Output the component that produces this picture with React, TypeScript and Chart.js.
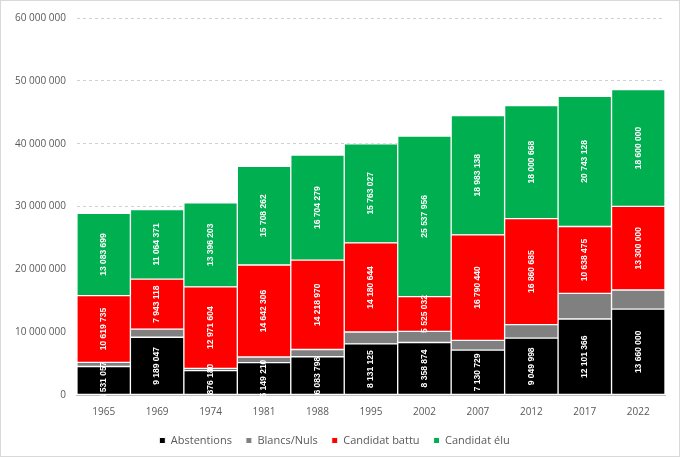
import { useEffect, useRef } from "react"
import { Chart, registerables } from "chart.js"

Chart.register(...registerables)

const years = ["1965", "1969", "1974", "1981", "1988", "1995", "2002", "2007", "2012", "2017", "2022"]
const abstentions = [4531057, 9189047, 3876180, 5149210, 6083798, 8131125, 8358874, 7130729, 9049998, 12101366, 13660000]
const blancsNuls = [668000, 1300000, 357000, 900000, 1160000, 1900000, 1770000, 1570000, 2150000, 4070000, 3050000]
const battu = [10619735, 7943118, 12971604, 14642306, 14218970, 14180644, 5525032, 16790440, 16860685, 10638475, 13300000]
const elu = [13083699, 11064371, 13396203, 15708262, 16704279, 15763027, 25537956, 18983138, 18000668, 20743128, 18600000]

const fmt = (v: number) => String(Math.round(v)).replace(/\B(?=(\d{3})+(?!\d))/g, " ")

// white vertical labels inside segments (grey segment has none)
const segmentLabels = {
  id: "segmentLabels",
  afterDatasetsDraw(chart: any) {
    const ctx = chart.ctx
    ctx.save()
    ctx.fillStyle = "#ffffff"
    ctx.font = "bold 8.5px 'Liberation Sans', Arial, sans-serif"
    ctx.textAlign = "center"
    ctx.textBaseline = "middle"
    chart.data.datasets.forEach((ds: any, i: number) => {
      if (ds.label === "Blancs/Nuls") return
      const meta = chart.getDatasetMeta(i)
      meta.data.forEach((bar: any, j: number) => {
        const y = (bar.y + bar.base) / 2
        ctx.save()
        ctx.translate(bar.x, y)
        ctx.rotate(-Math.PI / 2)
        ctx.fillText(fmt(ds.data[j]), 0, 0)
        ctx.restore()
      })
    })
    ctx.restore()
  },
}

export default function App() {
  const chartRef = useRef<HTMLCanvasElement>(null)
  const chartInstance = useRef<Chart | null>(null)

  useEffect(() => {
    document.body.style.margin = "0"
    if (!chartRef.current) return
    const ctx = chartRef.current.getContext("2d")
    if (!ctx) return
    if (chartInstance.current) chartInstance.current.destroy()

    const mk = (label: string, data: number[], color: string) => ({
      label,
      data,
      backgroundColor: color,
      borderColor: "#ffffff",
      borderWidth: 1,
      borderSkipped: false,
      barPercentage: 1,
      categoryPercentage: 1,
    })

    chartInstance.current = new Chart(ctx, {
      type: "bar",
      data: {
        labels: years,
        datasets: [
          mk("Abstentions", abstentions, "#000000"),
          mk("Blancs/Nuls", blancsNuls, "#808080"),
          mk("Candidat battu", battu, "#ff0000"),
          mk("Candidat élu", elu, "#00b050"),
        ],
      },
      options: {
        responsive: true,
        maintainAspectRatio: false,
        animation: false,
        layout: { padding: { top: 8, right: 14, left: 3, bottom: 0 } },
        scales: {
          x: {
            stacked: true,
            grid: { display: false },
            border: { color: "#bfbfbf" },
            ticks: { color: "#595959", font: { family: "'Open Sans', sans-serif", size: 10 } },
          },
          y: {
            stacked: true,
            min: 0,
            max: 60000000,
            ticks: {
              stepSize: 10000000,
              color: "#595959",
              padding: 11,
              font: { family: "'Open Sans', sans-serif", size: 10 },
              callback: (v: any) => fmt(Number(v)),
            },
            grid: { color: "#d0d0d0", drawTicks: false },
            border: { display: true, width: 0, dash: [3, 3] },
          },
        },
        plugins: {
          legend: {
            position: "bottom",
            labels: {
              boxWidth: 6,
              boxHeight: 6,
              color: "#595959",
              padding: 14,
              font: { family: "'Open Sans', sans-serif", size: 11 },
            },
          },
          tooltip: { enabled: false },
        },
      },
      plugins: [segmentLabels],
    })

    return () => {
      if (chartInstance.current) chartInstance.current.destroy()
    }
  }, [])

  return (
    <div style={{ width: 680, height: 457, boxSizing: "border-box", border: "1px solid #d9d9d9", background: "#fff", position: "relative" }}>
      <canvas ref={chartRef} />
    </div>
  )
}
